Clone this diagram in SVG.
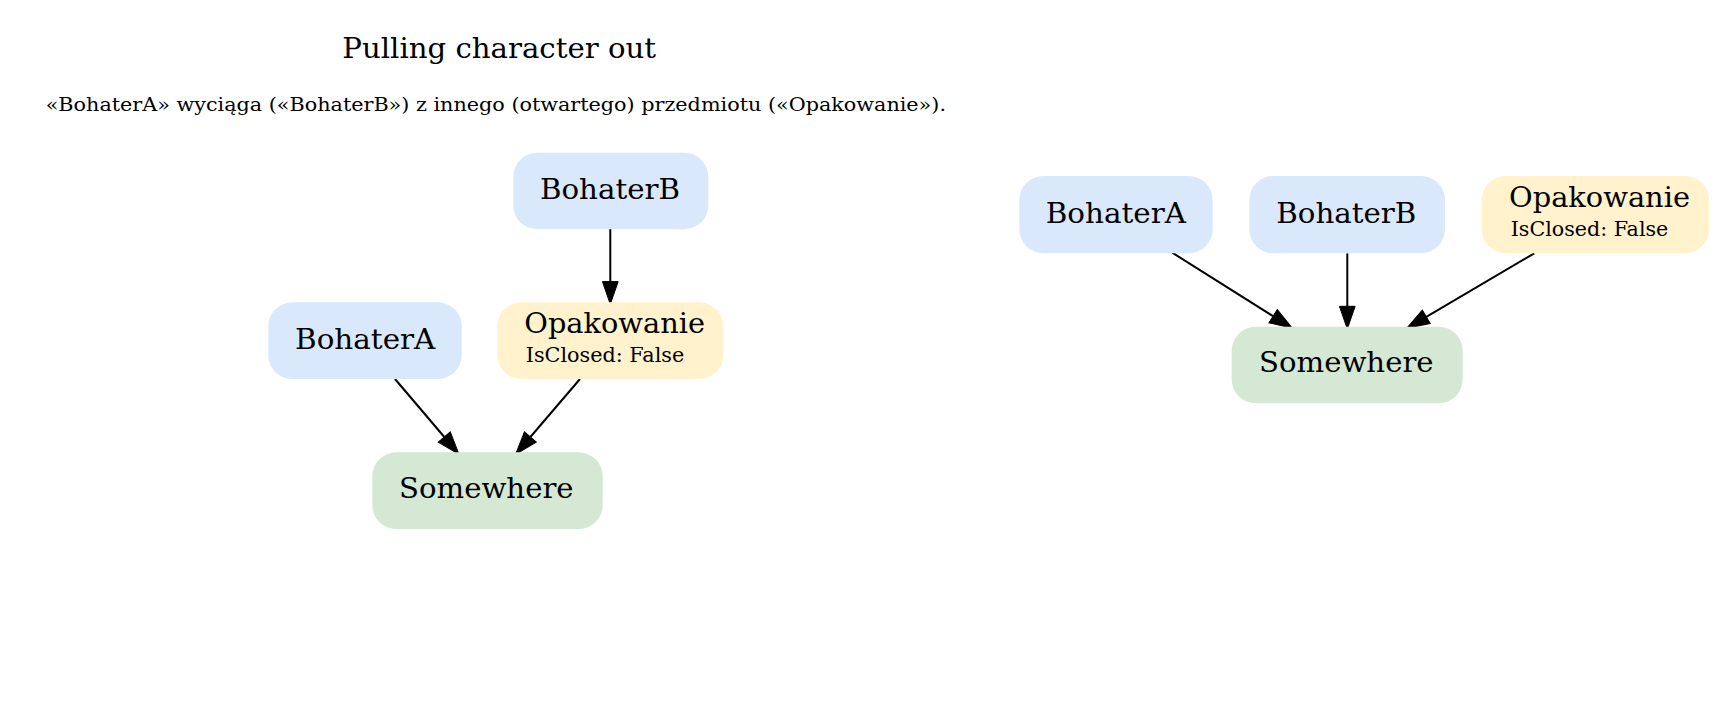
<svg xmlns="http://www.w3.org/2000/svg" width="1736" height="707" viewBox="0 0 1736 707">
<style>
text{font-family:"DejaVu Serif","Liberation Serif",serif;fill:#000}
.lbl{font-size:27px}
.sub{font-size:20px}
.blue{fill:#dae8fc}
.yellow{fill:#fff2cc}
.green{fill:#d5e8d4}
.edge{stroke:#000;stroke-width:2;fill:none}
</style>
<defs>
<marker id="arr" markerUnits="userSpaceOnUse" markerWidth="24" markerHeight="17" refX="0" refY="7.85" orient="auto" overflow="visible">
<path d="M0,0 L22.7,7.85 L0,15.7 z" fill="#000" stroke="#000" stroke-width="1"/>
</marker>
</defs>
<rect width="1736" height="707" fill="#fff"/>
<g id="title">
<text class="lbl" x="342.3" y="58.3" textLength="313.7" lengthAdjust="spacingAndGlyphs">Pulling character out</text>
<text style="font-size:18px" x="45.7" y="110.7" textLength="900.3" lengthAdjust="spacingAndGlyphs">«BohaterA» wyciąga («BohaterB») z innego (otwartego) przedmiotu («Opakowanie»).</text>
</g>
<g id="edges">
<path class="edge" d="M610.3,229 L610.3,281.6" marker-end="url(#arr)"/>
<path class="edge" d="M395,379 L444.3,437" marker-end="url(#arr)"/>
<path class="edge" d="M580,379 L530.4,437" marker-end="url(#arr)"/>
<path class="edge" d="M1172.3,252.7 L1273.1,316.2" marker-end="url(#arr)"/>
<path class="edge" d="M1347.3,253.3 L1347.3,306.3" marker-end="url(#arr)"/>
<path class="edge" d="M1534.3,253.3 L1426.3,316.8" marker-end="url(#arr)"/>
</g>
<g id="L_BohaterB">
<rect class="blue" x="513.3" y="152.7" width="195" height="76.5" rx="24"/>
<text class="lbl" x="610" y="199.3" text-anchor="middle" textLength="140" lengthAdjust="spacingAndGlyphs">BohaterB</text>
</g>
<g id="L_BohaterA">
<rect class="blue" x="268.3" y="302.3" width="193.4" height="76.7" rx="24"/>
<text class="lbl" x="365.2" y="349" text-anchor="middle" textLength="140.3" lengthAdjust="spacingAndGlyphs">BohaterA</text>
</g>
<g id="L_Opakowanie">
<rect class="yellow" x="497.3" y="302.3" width="226" height="76.7" rx="24"/>
<text class="lbl" x="524.3" y="332.7" textLength="180.7" lengthAdjust="spacingAndGlyphs">Opakowanie</text>
<text class="sub" x="525.7" y="361.7" textLength="158.6" lengthAdjust="spacingAndGlyphs">IsClosed: False</text>
</g>
<g id="L_Somewhere">
<rect class="green" x="372.3" y="452.3" width="230.4" height="76.7" rx="24"/>
<text class="lbl" x="486.3" y="498.3" text-anchor="middle" textLength="174.7" lengthAdjust="spacingAndGlyphs">Somewhere</text>
</g>
<g id="R_BohaterA">
<rect class="blue" x="1019.3" y="176" width="193.4" height="77.3" rx="24"/>
<text class="lbl" x="1115.8" y="222.7" text-anchor="middle" textLength="140.3" lengthAdjust="spacingAndGlyphs">BohaterA</text>
</g>
<g id="R_BohaterB">
<rect class="blue" x="1249.3" y="176" width="195.7" height="77.3" rx="24"/>
<text class="lbl" x="1346.3" y="222.7" text-anchor="middle" textLength="140" lengthAdjust="spacingAndGlyphs">BohaterB</text>
</g>
<g id="R_Opakowanie">
<rect class="yellow" x="1481.7" y="176" width="227.3" height="77.3" rx="24"/>
<text class="lbl" x="1509" y="206.7" textLength="181" lengthAdjust="spacingAndGlyphs">Opakowanie</text>
<text class="sub" x="1510.7" y="236" textLength="157.6" lengthAdjust="spacingAndGlyphs">IsClosed: False</text>
</g>
<g id="R_Somewhere">
<rect class="green" x="1231.7" y="326.7" width="231" height="76.6" rx="24"/>
<text class="lbl" x="1346.3" y="372.3" text-anchor="middle" textLength="174.7" lengthAdjust="spacingAndGlyphs">Somewhere</text>
</g>
</svg>
